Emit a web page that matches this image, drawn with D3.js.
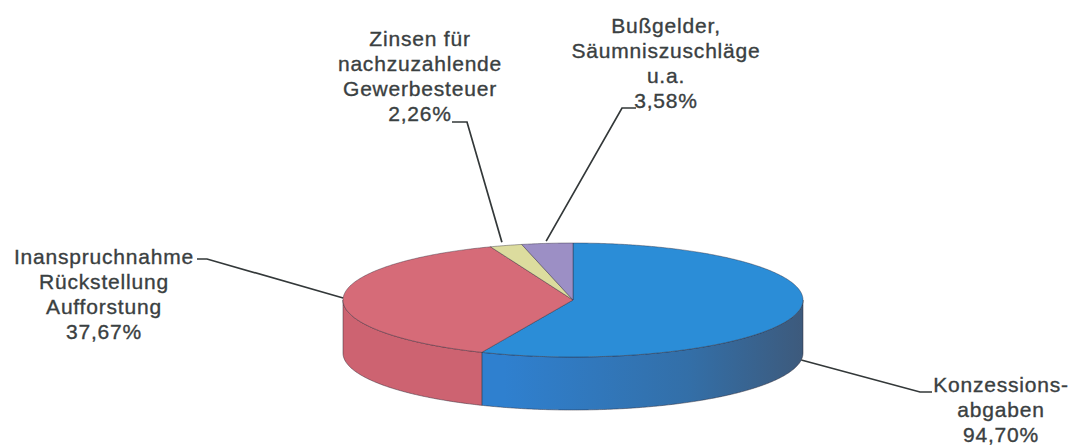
<!DOCTYPE html>
<html><head><meta charset="utf-8">
<script src="https://cdn.jsdelivr.net/npm/d3@7"></script>
<style>body{margin:0;background:#fff}svg{display:block}</style>
</head><body>
<svg id="c" width="1075" height="446"></svg>
<script>
// ---- data ----
const categories = ["Konzessionsabgaben", "Inanspruchnahme Rückstellung Aufforstung", "Zinsen für nachzuzahlende Gewerbesteuer", "Bußgelder, Säumniszuschläge u.a."];
const values = [56.49, 37.67, 2.26, 3.58];
const percentLabels = ["94,70%", "37,67%", "2,26%", "3,58%"];
const labelLines = [
  ["Konzessions-", "abgaben"],
  ["Inanspruchnahme", "Rückstellung", "Aufforstung"],
  ["Zinsen für", "nachzuzahlende", "Gewerbesteuer"],
  ["Bußgelder,", "Säumniszuschläge", "u.a."]
];

// ---- layout / style ----
const W = 1075, H = 446;
const cx = 573, cy = 300, rx = 230, ry = 57, depth = 53;
const topColors = ["#2b8dd7", "#d66b78", "#dcdc9e", "#9c8fc5"];
const sideColors = ["#2f7cc9", "#cd6371", "#c8c88a", "#857aab"];
const textColor = "#3a4041";
const lh = 25;
const labelLayout = [
  {x: 1001, y: 392, stub: [[932, 392], [920, 392]], attachDeg: 97, k: 1.0, bottom: true},
  {x: 104,  y: 264, stub: [[197, 259], [207, 259]], attachDeg: 272, k: 1.0, bottom: false},
  {x: 420,  y: 46,  stub: [[452, 122], [467, 122]], attachDeg: null, k: 1.06, bottom: false},
  {x: 666,  y: 33,  stub: [[636, 108], [622, 108]], attachDeg: null, k: 1.04, bottom: false}
];

const svg = d3.select("#c");
const defs = svg.append("defs");
const gBlue = defs.append("linearGradient").attr("id", "sideBlue")
  .attr("gradientUnits", "userSpaceOnUse").attr("x1", cx - rx).attr("x2", cx + rx).attr("y1", 0).attr("y2", 0);
gBlue.append("stop").attr("offset", "0.35").attr("stop-color", "#2f80cf");
gBlue.append("stop").attr("offset", "0.75").attr("stop-color", "#336fa8");
gBlue.append("stop").attr("offset", "1").attr("stop-color", "#3d5a7c");

const pie = d3.pie().sort(null).startAngle(0).endAngle(2 * Math.PI);
const arcs = pie(values);

const pt = (a, dy = 0, k = 1) => [cx + k * rx * Math.sin(a), cy - k * ry * Math.cos(a) + dy];
function sample(a0, a1, dy) {
  const n = Math.max(2, Math.ceil(Math.abs(a1 - a0) / (Math.PI / 360)));
  return d3.range(n + 1).map(i => pt(a0 + (a1 - a0) * i / n, dy));
}
const line = d3.line();

// sides (front half only)
const sides = svg.append("g");
arcs.forEach((d, i) => {
  const s = Math.max(d.startAngle, Math.PI / 2), e = Math.min(d.endAngle, 3 * Math.PI / 2);
  if (e <= s) return;
  const pts = sample(s, e, 0).concat(sample(e, s, depth));
  sides.append("path")
    .attr("d", line(pts) + "Z")
    .attr("fill", i === 0 ? "url(#sideBlue)" : sideColors[i])
    .attr("stroke", "#2e2a38").attr("stroke-width", 0.7).attr("stroke-opacity", 0.7);
});

// tops
const tops = svg.append("g");
arcs.forEach((d, i) => {
  const pts = [[cx, cy]].concat(sample(d.startAngle, d.endAngle, 0));
  tops.append("path")
    .attr("d", line(pts) + "Z")
    .attr("fill", topColors[i])
    .attr("stroke", "#2e2a38").attr("stroke-width", 0.7).attr("stroke-opacity", 0.6)
    .attr("stroke-linejoin", "round");
});

// leader lines
const leaders = svg.append("g");
arcs.forEach((d, i) => {
  const L = labelLayout[i];
  const a = L.attachDeg !== null ? L.attachDeg * Math.PI / 180 : (d.startAngle + d.endAngle) / 2;
  const end = pt(a, L.bottom ? depth : 0, L.k);
  leaders.append("path")
    .attr("d", line([L.stub[0], L.stub[1], end]))
    .attr("fill", "none").attr("stroke", "#333839").attr("stroke-width", 1.7);
});

// labels
const labels = svg.append("g")
  .attr("font-family", "'Liberation Sans', Arial, sans-serif")
  .attr("font-size", 21).attr("fill", textColor).attr("text-anchor", "middle")
  .attr("letter-spacing", "0.8px")
  .attr("stroke", textColor).attr("stroke-width", 0.35);
arcs.forEach((d, i) => {
  const L = labelLayout[i];
  const lines = labelLines[i].concat([percentLabels[i]]);
  const t = labels.append("text").attr("x", L.x).attr("y", L.y);
  lines.forEach((s, j) => t.append("tspan").attr("x", L.x).attr("y", L.y + j * lh).text(s));
});
</script>
</body></html>
